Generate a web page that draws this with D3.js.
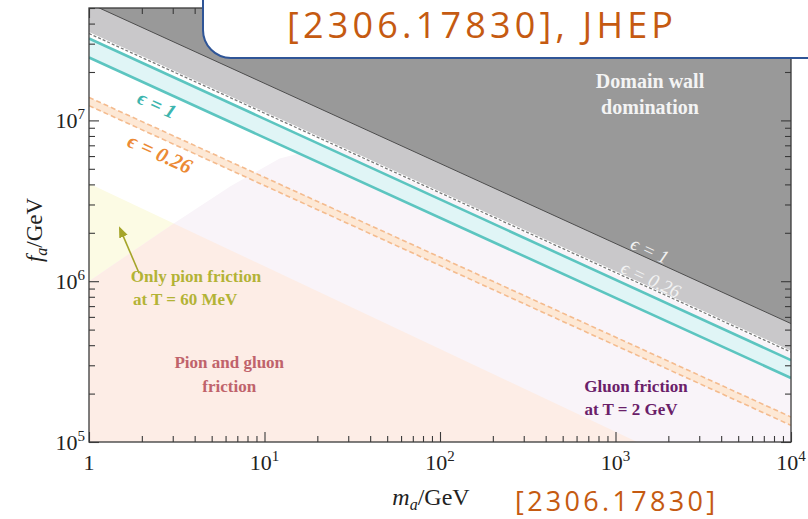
<!DOCTYPE html>
<html>
<head>
<meta charset="utf-8">
<script src="https://cdn.jsdelivr.net/npm/d3@7"></script>
<style>
  body { margin: 0; background: #fff; }
  svg { display: block; }
</style>
</head>
<body>
<div id="chart"></div>
<script>
// axes
var massDomain = [1, 1e4];
var faDomain = [1e5, 5e7];
var massTicks = [1, 10, 100, 1000, 10000];
var massTickLabels = [["1", ""], ["10", "1"], ["10", "2"], ["10", "3"], ["10", "4"]];
var faTicks = [1e5, 1e6, 1e7];
var faTickLabels = [["10", "5"], ["10", "6"], ["10", "7"]];

// straight boundaries, f_a at m_a = 1 and m_a = 1e4
var lineMass = [1, 1e4];
var wallEps1 = [5.35e7, 5.45e5];
var wallEps026 = [3.47e7, 3.62e5];
var tealUpper = [3.23e7, 3.23e5];
var tealLower = [2.46e7, 2.5e5];
var orangeUpper = [1.39e7, 1.43e5];
var orangeLower = [1.235e7, 1.27e5];

// pion friction edge (T = 60 MeV)
var pionMass = [1, 1330];
var pionFa = [4.05e6, 1e5];

// gluon friction edge (T = 2 GeV)
var gluonMass = [1, 3.1, 6.4, 12.2, 29, 60, 200, 1e4];
var gluonFa = [1.0e6, 2.32e6, 3.9e6, 5.8e6, 7.4e6, 7.8e6, 8.2e6, 9e6];

// annotations [m_a, f_a]
var arrowFrom = [1.93, 1.12e6];
var arrowTo = [1.50, 2.13e6];

var svgWidth = 808, svgHeight = 519,
    margin = { top: 8, right: 17, bottom: 77, left: 89 },
    chartWidth = svgWidth - margin.left - margin.right,
    chartHeight = svgHeight - margin.top - margin.bottom;

var x = d3.scaleLog().domain(massDomain).range([0, chartWidth]);
var y = d3.scaleLog().domain(faDomain).range([chartHeight, 0]);

var root = d3.select('#chart').append('svg')
    .attr('width', svgWidth)
    .attr('height', svgHeight);

var defs = root.append('defs');
defs.append('clipPath').attr('id', 'plot-clip')
    .append('rect').attr('width', chartWidth).attr('height', chartHeight);
defs.append('marker')
    .attr('id', 'arrow-head')
    .attr('viewBox', '0 0 10 10')
    .attr('refX', 8).attr('refY', 5)
    .attr('markerWidth', 7).attr('markerHeight', 7)
    .attr('orient', 'auto')
    .append('path')
    .attr('d', 'M0,1L10,5L0,9Z')
    .attr('fill', '#a5a52a');

var svg = root.append('g')
    .attr('transform', 'translate(' + margin.left + ',' + margin.top + ')');

var plot = svg.append('g').attr('clip-path', 'url(#plot-clip)');

function pts(ms, fs) {
    return ms.map(function (m, i) { return [m, fs[i]]; });
}
var poly = d3.line()
    .x(function (d) { return x(d[0]); })
    .y(function (d) { return y(d[1]); });
var band = d3.area()
    .x(function (d) { return x(d.m); })
    .y0(function (d) { return y(d.lo); })
    .y1(function (d) { return y(d.hi); });
function bandData(lo, hi) {
    return lineMass.map(function (m, i) { return { m: m, lo: lo[i], hi: hi[i] }; });
}

// pion friction region (yellow)
var pionPoly = pts(pionMass, pionFa).concat([[massDomain[0], faDomain[0]]]);
plot.append('path')
    .attr('d', poly(pionPoly) + 'Z')
    .attr('fill', '#fcfbe4');

// gluon friction region (lavender)
var gluonPoly = pts(gluonMass, gluonFa)
    .concat([[massDomain[1], faDomain[0]], [massDomain[0], faDomain[0]]]);
defs.append('clipPath').attr('id', 'gluon-clip')
    .append('path').attr('d', poly(gluonPoly) + 'Z');
plot.append('path')
    .attr('d', poly(gluonPoly) + 'Z')
    .attr('fill', '#f9f4f9');

// both (pink)
plot.append('g').attr('clip-path', 'url(#gluon-clip)')
    .append('path')
    .attr('d', poly(pionPoly) + 'Z')
    .attr('fill', '#fdede6');

// epsilon bands
plot.append('path')
    .attr('d', band(bandData(tealLower, tealUpper)))
    .attr('fill', '#e0f5f6');
plot.append('path')
    .attr('d', band(bandData(orangeLower, orangeUpper)))
    .attr('fill', '#fde8d5');

// domain wall regions
var topFa = [faDomain[1] * 2, faDomain[1] * 2];
plot.append('path')
    .attr('d', band(bandData(wallEps026, topFa)))
    .attr('fill', '#c9c8ca');
plot.append('path')
    .attr('d', band(bandData(wallEps1, topFa)))
    .attr('fill', '#999999');

// boundary lines
plot.append('path')
    .attr('d', poly(pts(lineMass, wallEps1)))
    .attr('fill', 'none').attr('stroke', '#4d4d4d').attr('stroke-width', 1);
plot.append('path')
    .attr('d', poly(pts(lineMass, wallEps026)))
    .attr('fill', 'none').attr('stroke', '#ffffff').attr('stroke-width', 2.6);
plot.append('path')
    .attr('d', poly(pts(lineMass, wallEps026)))
    .attr('fill', 'none').attr('stroke', '#7a7a7a').attr('stroke-width', 1.3)
    .attr('stroke-dasharray', '3,2');
[tealUpper, tealLower].forEach(function (fs) {
    plot.append('path')
        .attr('d', poly(pts(lineMass, fs)))
        .attr('fill', 'none').attr('stroke', '#5cc5c0').attr('stroke-width', 2.6);
});
[orangeUpper, orangeLower].forEach(function (fs) {
    plot.append('path')
        .attr('d', poly(pts(lineMass, fs)))
        .attr('fill', 'none').attr('stroke', '#f4bb8e').attr('stroke-width', 1.6)
        .attr('stroke-dasharray', '5,3');
});

// arrow
plot.append('line')
    .attr('x1', x(arrowFrom[0])).attr('y1', y(arrowFrom[1]))
    .attr('x2', x(arrowTo[0])).attr('y2', y(arrowTo[1]))
    .attr('stroke', '#a5a52a').attr('stroke-width', 1.6)
    .attr('marker-end', 'url(#arrow-head)');

// region labels
var serif = 'Liberation Serif, Times New Roman, serif';
function label(m, f, txt, color, size, anchor) {
    return svg.append('text')
        .attr('x', x(m)).attr('y', y(f))
        .attr('text-anchor', anchor || 'middle')
        .attr('font-family', serif)
        .attr('font-weight', 'bold')
        .attr('font-size', size)
        .attr('fill', color)
        .text(txt);
}
label(1573, 1.6e7, 'Domain wall', '#f4f4f4', 20);
label(1573, 1.1e7, 'domination', '#f4f4f4', 20);
label(6.3, 2.89e5, 'Pion and gluon', '#c0636b', 17);
label(6.3, 2.04e5, 'friction', '#c0636b', 17);
label(1.73, 9.86e5, 'Only pion friction', '#b3b336', 17, 'start');
label(1.78, 7.1e5, 'at T = 60 MeV', '#b3b336', 17, 'start');
label(1309, 2.04e5, 'Gluon friction', '#6a2069', 17);
label(1225, 1.47e5, 'at T = 2 GeV', '#6a2069', 17);

// epsilon labels along the lines
var angle = Math.atan2(y(tealUpper[1]) - y(tealUpper[0]), x(lineMass[1]) - x(lineMass[0])) * 180 / Math.PI;
function epsLabel(m, f, txt, color, bold, size) {
    svg.append('text')
        .attr('transform', 'translate(' + x(m) + ',' + y(f) + ') rotate(' + angle + ')')
        .attr('text-anchor', 'middle')
        .attr('dy', '0.35em')
        .attr('font-family', serif)
        .attr('font-style', 'italic')
        .attr('font-weight', bold ? 'bold' : 'normal')
        .attr('font-size', size)
        .attr('fill', color)
        .text(txt);
}
epsLabel(2.44, 1.256e7, '\u03f5 = 1', '#3db5ae', true, 20);
epsLabel(2.54, 6.24e6, '\u03f5 = 0.26', '#ec8a35', true, 21);
epsLabel(1573, 1.56e6, '\u03f5 = 1', '#f2f2f2', false, 19);
epsLabel(1592, 1.03e6, '\u03f5 = 0.26', '#f2f2f2', false, 19);

// frame and ticks (all inward)
var minorX = [], minorY = [];
[1, 10, 100, 1000].forEach(function (d) {
    for (var k = 2; k <= 9; k++) minorX.push(d * k);
});
[1e5, 1e6, 1e7].forEach(function (d) {
    for (var k = 2; k <= 9; k++) if (d * k <= faDomain[1]) minorY.push(d * k);
});
var axes = [
    { gen: d3.axisBottom, scale: x, t: 'translate(0,' + chartHeight + ')', major: massTicks, minor: minorX },
    { gen: d3.axisTop, scale: x, t: 'translate(0,0)', major: massTicks, minor: minorX },
    { gen: d3.axisLeft, scale: y, t: 'translate(0,0)', major: faTicks, minor: minorY },
    { gen: d3.axisRight, scale: y, t: 'translate(' + chartWidth + ',0)', major: faTicks, minor: minorY }
];
axes.forEach(function (a) {
    [[a.major, 10], [a.minor, 6]].forEach(function (set) {
        var g = svg.append('g')
            .attr('transform', a.t)
            .call(a.gen(a.scale).tickValues(set[0]).tickSizeInner(-set[1]).tickSizeOuter(0).tickFormat(''));
        g.select('.domain').remove();
        g.selectAll('line').attr('stroke', '#3a3a3a').attr('stroke-width', 1.1);
    });
});
svg.append('rect')
    .attr('width', chartWidth).attr('height', chartHeight)
    .attr('fill', 'none').attr('stroke', '#3a3a3a').attr('stroke-width', 1.3);

// tick labels
var xl = svg.append('g').selectAll('text').data(massTicks).enter().append('text')
    .attr('x', function (d) { return x(d); })
    .attr('y', chartHeight + 28)
    .attr('text-anchor', 'middle')
    .attr('font-family', serif).attr('font-size', 22).attr('fill', '#222');
xl.append('tspan').text(function (d, i) { return massTickLabels[i][0]; });
xl.append('tspan').attr('dy', -9).attr('font-size', 15)
    .text(function (d, i) { return massTickLabels[i][1]; });

var yl = svg.append('g').selectAll('text').data(faTicks).enter().append('text')
    .attr('x', -4)
    .attr('y', function (d) { return y(d) + 8; })
    .attr('text-anchor', 'end')
    .attr('font-family', serif).attr('font-size', 22).attr('fill', '#222');
yl.append('tspan').text(function (d, i) { return faTickLabels[i][0]; });
yl.append('tspan').attr('dy', -9).attr('font-size', 15)
    .text(function (d, i) { return faTickLabels[i][1]; });

// axis titles
var xt = svg.append('text')
    .attr('x', 342).attr('y', chartHeight + 63)
    .attr('text-anchor', 'middle')
    .attr('font-family', serif).attr('font-size', 24).attr('fill', '#222');
xt.append('tspan').attr('font-style', 'italic').text('m');
xt.append('tspan').attr('font-style', 'italic').attr('font-size', 16).attr('dy', 5).text('a');
xt.append('tspan').attr('dy', -5).text('/GeV');

var yt = svg.append('text')
    .attr('transform', 'translate(-47,' + 222 + ') rotate(-90)')
    .attr('text-anchor', 'middle')
    .attr('font-family', serif).attr('font-size', 23).attr('fill', '#222');
yt.append('tspan').attr('font-style', 'italic').text('f');
yt.append('tspan').attr('font-style', 'italic').attr('font-size', 16).attr('dy', 5).text('a');
yt.append('tspan').attr('dy', -5).text('/GeV');

// slide overlay: reference box
root.append('rect')
    .attr('x', 203).attr('y', -40)
    .attr('width', 660).attr('height', 98)
    .attr('rx', 28).attr('ry', 28)
    .attr('fill', '#ffffff')
    .attr('stroke', '#2f5597').attr('stroke-width', 2);
root.append('text')
    .attr('x', 287).attr('y', 38)
    .attr('font-family', 'Open Sans, Liberation Sans, sans-serif')
    .attr('font-size', 36)
    .attr('fill', '#c55a11')
    .attr('textLength', 386).attr('lengthAdjust', 'spacing')
    .text('[2306.17830], JHEP');
root.append('text')
    .attr('x', 515).attr('y', 511)
    .attr('font-family', 'Open Sans, Liberation Sans, sans-serif')
    .attr('font-size', 27)
    .attr('fill', '#c55a11')
    .attr('textLength', 200).attr('lengthAdjust', 'spacing')
    .text('[2306.17830]');
</script>
</body>
</html>
